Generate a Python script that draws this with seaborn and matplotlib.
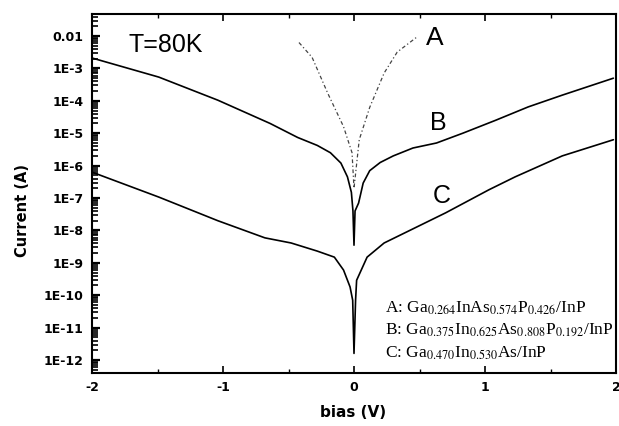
import numpy as np
import pandas as pd
import seaborn as sns
import matplotlib
matplotlib.use("Agg")
import matplotlib.pyplot as plt
from matplotlib.ticker import FixedLocator, LogLocator, NullFormatter

# curve A (dotted)
bias_a = [-0.42, -0.32, -0.20, -0.08, -0.015, 0.0, 0.04, 0.12, 0.23, 0.33, 0.48]
cur_a = [6.3e-3, 2.2e-3, 1.7e-4, 1.6e-5, 2.5e-6, 2.0e-7, 6.3e-6, 6.3e-5, 7.2e-4, 3.2e-3, 9.3e-3]

# curve B
bias_b = [-2.0, -1.49, -1.04, -0.64, -0.43, -0.28, -0.18, -0.10, -0.05, -0.02, -0.008, 0.0,
          0.008, 0.035, 0.07, 0.12, 0.2, 0.3, 0.45, 0.63, 0.83, 1.08, 1.33, 1.59, 1.98]
cur_b = [2.1e-3, 5.4e-4, 1.05e-4, 2.0e-5, 7.4e-6, 4.2e-6, 2.5e-6, 1.2e-6, 4.5e-7, 1.5e-7, 4e-8, 3.5e-9,
         4e-8, 7e-8, 2.9e-7, 7e-7, 1.25e-6, 2.0e-6, 3.5e-6, 5.0e-6, 1.0e-5, 2.5e-5, 6.5e-5, 1.5e-4, 5.0e-4]

# curve C
bias_c = [-2.0, -1.49, -1.04, -0.68, -0.48, -0.28, -0.15, -0.08, -0.03, -0.01, 0.0,
          0.012, 0.02, 0.1, 0.23, 0.4, 0.7, 1.03, 1.23, 1.59, 1.98]
cur_c = [6.3e-7, 1.07e-7, 2.0e-8, 5.9e-9, 4.1e-9, 2.3e-9, 1.5e-9, 6e-10, 1.8e-10, 7e-11, 1.6e-12,
         7e-11, 2.9e-10, 1.5e-9, 4.1e-9, 8.9e-9, 3.5e-8, 1.8e-7, 4.5e-7, 2.0e-6, 6.3e-6]

xtick_vals = [-2, -1, 0, 1, 2]
xtick_labels = ["-2", "-1", "0", "1", "2"]
ytick_vals = [1e-12, 1e-11, 1e-10, 1e-9, 1e-8, 1e-7, 1e-6, 1e-5, 1e-4, 1e-3, 1e-2]
ytick_labels = ["1E-12", "1E-11", "1E-10", "1E-9", "1E-8", "1E-7", "1E-6", "1E-5", "1E-4", "1E-3", "0.01"]

legend_lines = [r"A: Ga$_{0.264}$InAs$_{0.574}$P$_{0.426}$/InP",
                r"B: Ga$_{0.375}$In$_{0.625}$As$_{0.808}$P$_{0.192}$/InP",
                r"C: Ga$_{0.470}$In$_{0.530}$As/InP"]

df = pd.concat([
    pd.DataFrame({"bias": bias_a, "current": cur_a, "curve": "A"}),
    pd.DataFrame({"bias": bias_b, "current": cur_b, "curve": "B"}),
    pd.DataFrame({"bias": bias_c, "current": cur_c, "curve": "C"}),
], ignore_index=True)

sns.set_style("ticks")
plt.rcParams["mathtext.fontset"] = "stix"
plt.rcParams["text.color"] = "black"
plt.rcParams["axes.labelcolor"] = "black"
plt.rcParams["xtick.color"] = "black"
plt.rcParams["ytick.color"] = "black"

fig = plt.figure(figsize=(6.19, 4.26), dpi=100)
ax = fig.add_axes([92 / 619, 53 / 426, 524 / 619, 359 / 426])
ax.set_yscale("log")

sns.lineplot(data=df[df.curve != "A"], x="bias", y="current", units="curve", estimator=None,
             sort=False, color="black", lw=1.2, ax=ax, legend=False)
sns.lineplot(data=df[df.curve == "A"], x="bias", y="current", estimator=None, sort=False,
             color="#444444", lw=0.9, ax=ax, legend=False, linestyle=(0, (3, 2, 1, 2)))

ax.set_xlim(-2, 2)
ax.set_ylim(10 ** -12.4, 10 ** -1.32)

ax.yaxis.set_major_locator(FixedLocator(ytick_vals))
ax.set_yticklabels(ytick_labels)
ax.yaxis.set_minor_locator(LogLocator(base=10, subs=np.arange(2, 10), numticks=30))
ax.yaxis.set_minor_formatter(NullFormatter())
ax.xaxis.set_major_locator(FixedLocator(xtick_vals))
ax.set_xticklabels(xtick_labels)
ax.xaxis.set_minor_locator(FixedLocator([-1.5, -0.5, 0.5, 1.5]))

ax.tick_params(axis="y", which="major", direction="in", length=6, width=1.6, pad=6,
               left=True, right=False, labelsize=9, colors="black")
ax.tick_params(axis="y", which="minor", direction="in", length=4, width=1.2,
               left=True, right=False, colors="black")
ax.tick_params(axis="x", which="major", direction="in", length=5, width=1.2, pad=6,
               top=True, bottom=True, labelsize=9, colors="black")
ax.tick_params(axis="x", which="minor", direction="in", length=3, width=1.0,
               top=True, bottom=True, colors="black")
for lab in ax.get_xticklabels() + ax.get_yticklabels():
    lab.set_fontweight("bold")

for sp in ax.spines.values():
    sp.set_linewidth(1.5)
    sp.set_color("black")

ax.set_xlabel("bias (V)", fontsize=11, fontweight="bold", color="black")
ax.set_ylabel("Current (A)", fontsize=10.5, fontweight="bold", color="black")
ax.xaxis.set_label_coords(0.498, -0.089)
ax.yaxis.set_label_coords(-0.119, 0.454)

ax.text(0.069, 0.915, "T=80K", transform=ax.transAxes, fontsize=18,
        family="Liberation Sans", va="center", ha="left", color="black")
ax.text(0.55, 10 ** -2.06, "A", fontsize=19, family="Liberation Sans", va="center", ha="left")
ax.text(0.58, 10 ** -4.69, "B", fontsize=18, family="Liberation Sans", va="center", ha="left")
ax.text(0.60, 10 ** -6.94, "C", fontsize=18, family="Liberation Sans", va="center", ha="left")

for i, line in enumerate(legend_lines):
    ax.text(0.237, 10 ** (-10.4 - 0.69 * i), line, fontsize=12.5, family="Liberation Serif",
            va="center", ha="left", clip_on=False)

fig.savefig("out.png", dpi=100)
